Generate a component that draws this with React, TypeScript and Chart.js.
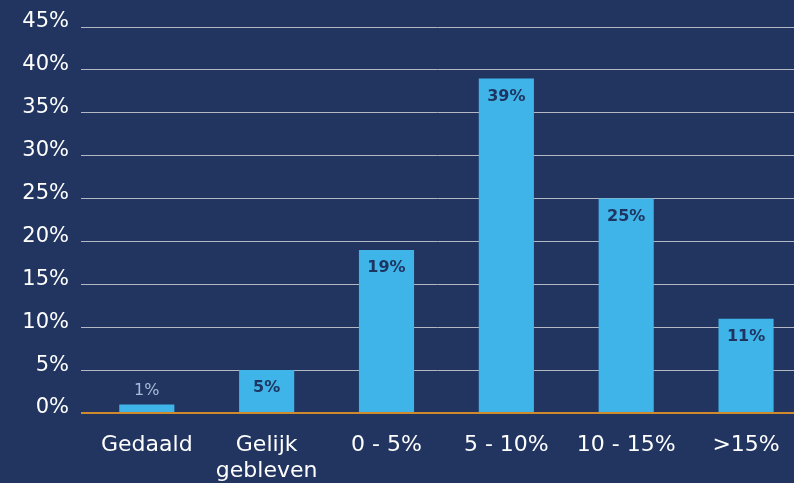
import React, { useEffect, useRef } from "react";
import { Chart, registerables } from "chart.js";

Chart.register(...registerables);

const categories: (string | string[])[] = ["Gedaald", ["Gelijk", "gebleven"], "0 - 5%", "5 - 10%", "10 - 15%", ">15%"];
const values: number[] = [1, 5, 19, 39, 25, 11];
const yTicks: number[] = [0, 5, 10, 15, 20, 25, 30, 35, 40, 45];

const BG = "#213560";
const BAR = "#3fb4e8";
const LABEL_DARK = "#1f3561";
const LABEL_LIGHT = "#a9bdd9";
const GRID = "#b3b8c4";
const ZERO = "#d08a2e";
const FONT = "'DejaVu Sans', sans-serif";

const labelsPlugin = {
  id: "barLabels",
  afterDatasetsDraw(chart: any) {
    const ctx = chart.ctx;
    const meta = chart.getDatasetMeta(0);
    const ys = chart.scales.y;
    const y0 = ys.getPixelForValue(0);
    ctx.save();
    ctx.strokeStyle = ZERO;
    ctx.lineWidth = 2;
    ctx.beginPath();
    ctx.moveTo(chart.chartArea.left, y0);
    ctx.lineTo(chart.chartArea.right, y0);
    ctx.stroke();
    ctx.textAlign = "center";
    meta.data.forEach((el: any, i: number) => {
      const v = values[i];
      const h = el.base - el.y;
      const txt = v + "%";
      if (h < 30) {
        ctx.font = `16px ${FONT}`;
        ctx.fillStyle = LABEL_LIGHT;
        ctx.textBaseline = "middle";
        ctx.fillText(txt, el.x, el.y - 14);
      } else {
        ctx.font = `bold 16px ${FONT}`;
        ctx.fillStyle = LABEL_DARK;
        ctx.textBaseline = "middle";
        ctx.fillText(txt, el.x, el.y + 18);
      }
    });
    ctx.restore();
  },
};

export default function App() {
  const ref = useRef<HTMLCanvasElement | null>(null);
  useEffect(() => {
    if (!ref.current) return;
    const chart = new Chart(ref.current, {
      type: "bar",
      data: {
        datasets: [
          {
            data: values.map((v, i) => ({ x: i, y: v })),
            backgroundColor: BAR,
            borderWidth: 0,
            barPercentage: 0.46,
            categoryPercentage: 1,
          },
        ],
      },
      options: {
        animation: false,
        responsive: false,
        maintainAspectRatio: false,
        layout: { padding: { top: 27, left: 0, right: 0, bottom: 0 } },
        plugins: { legend: { display: false }, tooltip: { enabled: false } },
        scales: {
          x: {
            type: "linear",
            offset: false,
            min: -0.549,
            max: 5.4,
            grid: { display: false, drawTicks: false, offset: false },
            border: { display: false },
            afterBuildTicks: (s: any) => {
              s.ticks = categories.map((_, i) => ({ value: i }));
            },
            ticks: {
              autoSkip: false,
              maxRotation: 0,
              minRotation: 0,
              padding: 19,
              color: "#ffffff",
              font: { family: FONT, size: 22, lineHeight: 1.2 },
              callback: (v: any) => {
                const n = Number(v);
                if (Number.isInteger(n) && n >= 0 && n < categories.length) return categories[n] as any;
                return "";
              },
            },
            afterFit: (s: any) => {
              s.height = 70;
              s.paddingLeft = 0;
              s.paddingRight = 0;
            },
          },
          y: {
            min: 0,
            max: 45,
            grid: {
              drawTicks: false,
              color: (c: any) => (c.tick && c.tick.value === 0 ? "rgba(0,0,0,0)" : GRID),
              lineWidth: 1,
            },
            border: { display: false },
            afterBuildTicks: (s: any) => {
              s.ticks = yTicks.map((v) => ({ value: v }));
            },
            ticks: {
              padding: 12,
              labelOffset: -5,
              color: "#ffffff",
              font: { family: FONT, size: 21 },
              callback: (v: any) => v + "%",
            },
            afterFit: (s: any) => {
              s.width = 81;
            },
          },
        },
      },
      plugins: [labelsPlugin],
    });
    return () => chart.destroy();
  }, []);
  return (
    <div
      style={{
        position: "fixed",
        left: 0,
        top: 0,
        width: 794,
        height: 483,
        background: BG,
        overflow: "hidden",
      }}
    >
      <canvas ref={ref} width={794} height={483} style={{ display: "block" }} />
    </div>
  );
}
